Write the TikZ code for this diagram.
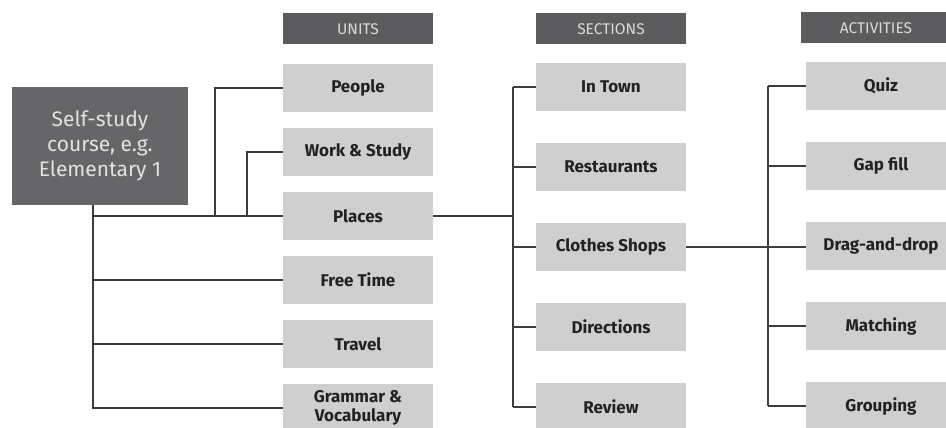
\documentclass[tikz,border=0pt]{standalone}
\usepackage{fontspec}
\setmainfont{Fira Sans}
\usetikzlibrary{math}
\usetikzlibrary{positioning}

\definecolor{headgray}{HTML}{5C5C5E}
\definecolor{headtext}{HTML}{DADADA}
\definecolor{maingray}{HTML}{666668}
\definecolor{maintext}{HTML}{E2E2E2}
\definecolor{boxgray}{HTML}{CFCFCF}
\definecolor{textdark}{HTML}{222222}
\definecolor{linegray}{HTML}{3C3C3C}

\tikzset{
  headbox/.style={fill=headgray, text=headtext, minimum width=150pt,
    minimum height=31pt, inner sep=0pt,
    font=\fontsize{15.5}{17}\selectfont},
  mainbox/.style={fill=maingray, text=maintext, minimum width=176pt,
    minimum height=117pt, inner sep=0pt, align=center,
    font=\fontsize{21}{25}\selectfont},
  itembox/.style={fill=boxgray, text=textdark, minimum width=150pt,
    minimum height=48pt, inner sep=0pt, align=center,
    font=\bfseries\fontsize{17}{19.5}\selectfont},
  link/.style={draw=linegray, line width=2.2pt},
}

\begin{document}
\begin{tikzpicture}[x=1pt,y=-1pt]

  \useasboundingbox (0,0) rectangle (946,428);

  \tikzmath{
    \unitx    = 358; % centre of unit column
    \sectx    = 611; % centre of section column
    \actx     = 881; % centre of activity column
    \unitstep = 64;  % vertical step of units
    \step     = 80;  % vertical step of sections and activities
  }

  % column headers
  \node[headbox] (hunits)      at (\unitx,29) {UNITS};
  \node[headbox] (hsections)   at (\sectx,29) {SECTIONS};
  \node[headbox] (hactivities) at (876,28)    {ACTIVITIES};

  % course
  \node[mainbox] (course) at (100,146) {Self-study\\course, e.g.\\Elementary 1};

  % units
  \foreach \name/\txt [count=\i from 0] in {people/People, work/Work \& Study,
      places/Places, freetime/Free Time, travel/Travel,
      grammar/{Grammar \&\\Vocabulary}}
    \node[itembox] (\name) at (\unitx, 88+\i*\unitstep) {\txt};

  % sections
  \foreach \name/\txt [count=\i from 0] in {intown/In Town,
      restaurants/Restaurants, clothes/Clothes Shops,
      directions/Directions, review/Review}
    \node[itembox] (\name) at (\sectx, 87+\i*\step) {\txt};

  % activities
  \foreach \name/\txt [count=\i from 0] in {quiz/Quiz, gapfill/Gap fill,
      dragdrop/Drag-and-drop, matching/Matching, grouping/Grouping}
    \node[itembox] (\name) at (\actx, 86+\i*\step) {\txt};

  % course -> units
  \coordinate (trunk) at ([xshift=-7pt]course.south);
  \draw[link] (trunk) |- (places.west);
  \draw[link] (trunk) |- (freetime.west);
  \draw[link] (trunk) |- (travel.west);
  \draw[link] (trunk) |- (grammar.west);
  \draw[link] (people.west) -| ([xshift=-68pt]places.west);
  \draw[link] (work.west) -| ([xshift=-36pt]places.west);

  % places -> sections
  \coordinate (sbus) at ([xshift=-23pt]places.east -| intown.west);
  \draw[link] (places.east) -- (sbus);
  \draw[link] ([xshift=-23pt]intown.west) -- ([xshift=-23pt]review.west);
  \foreach \name in {intown, restaurants, clothes, directions, review}
    \draw[link] (\name.west) -- ++(-23,0);

  % clothes shops -> activities
  \draw[link] (clothes.east) -- (clothes.east -| dragdrop.west);
  \draw[link] ([xshift=-38pt]quiz.west) -- ([xshift=-38pt]grouping.west);
  \foreach \name in {quiz, gapfill, matching, grouping}
    \draw[link] (\name.west) -- ++(-38,0);

\end{tikzpicture}
\end{document}
